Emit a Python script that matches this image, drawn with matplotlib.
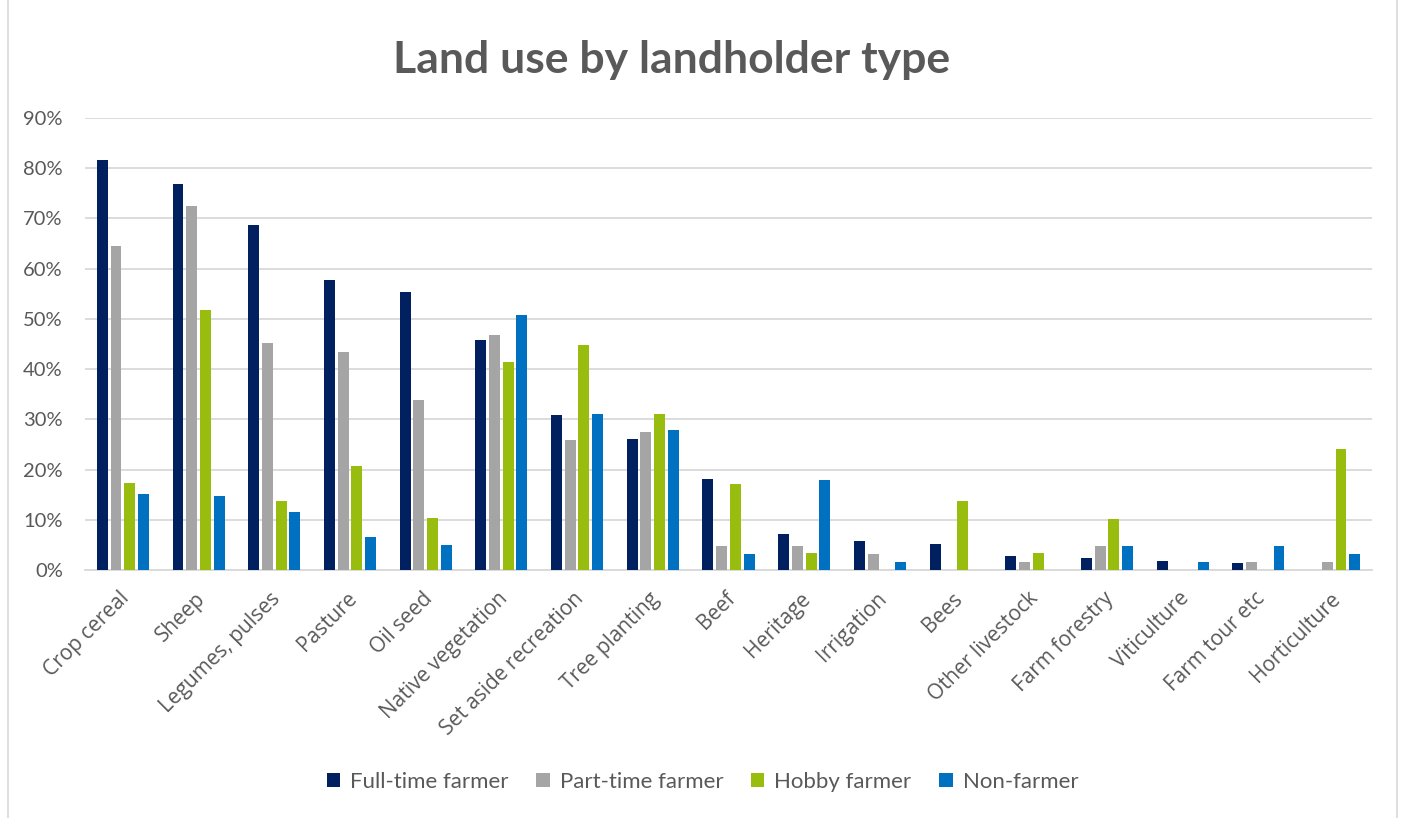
import numpy as np
import matplotlib.pyplot as plt
from matplotlib.patches import Rectangle
from matplotlib.ticker import PercentFormatter
from matplotlib.transforms import ScaledTranslation

categories = ['Crop cereal', 'Sheep', 'Legumes, pulses', 'Pasture', 'Oil seed',
              'Native vegetation', 'Set aside recreation', 'Tree planting', 'Beef',
              'Heritage', 'Irrigation', 'Bees', 'Other livestock', 'Farm forestry',
              'Viticulture', 'Farm tour etc', 'Horticulture']

full_time = [81.7, 76.9, 68.7, 57.7, 55.3, 45.7, 30.8, 26.0, 18.2, 7.1, 5.7, 5.2, 2.8, 2.3, 1.7, 1.3, 0.0]
part_time = [64.6, 72.5, 45.2, 43.5, 33.9, 46.8, 25.8, 27.4, 4.7, 4.7, 3.1, 0.0, 1.5, 4.7, 0.0, 1.5, 1.5]
hobby = [17.3, 51.7, 13.8, 20.7, 10.4, 41.4, 44.8, 31.0, 17.2, 3.3, 0.0, 13.7, 3.3, 10.2, 0.0, 0.0, 24.1]
non_farmer = [15.1, 14.7, 11.5, 6.6, 5.0, 50.8, 31.1, 27.8, 3.1, 17.9, 1.5, 0.0, 0.0, 4.8, 1.5, 4.8, 3.1]

series = ['Full-time farmer', 'Part-time farmer', 'Hobby farmer', 'Non-farmer']
colors = ['#002060', '#A5A5A5', '#99BD0E', '#0070C0']

plt.rcParams['font.family'] = ['Lato', 'DejaVu Sans']
text_col = '#595959'

fig = plt.figure(figsize=(14.05, 8.18), dpi=100)
ax = fig.add_axes([85 / 1405, 1 - 570 / 818, (1372 - 85) / 1405, (570 - 118) / 818])

x = np.arange(len(categories))
step = 0.181
width = 0.145
for i, (name, vals, c) in enumerate(zip(series, [full_time, part_time, hobby, non_farmer], colors)):
    ax.bar(x + (i - 1.5) * step, vals, width=width, color=c, label=name, zorder=3)

ax.set_xlim(-0.5, len(categories) - 0.5)
ax.set_ylim(0, 90)
ax.set_yticks(np.arange(0, 91, 10))
ax.yaxis.set_major_formatter(PercentFormatter(decimals=0))
ax.grid(axis='y', color='#D9D9D9', linewidth=1.3, zorder=0)
for s in ['top', 'right', 'left']:
    ax.spines[s].set_visible(False)
ax.spines['bottom'].set_color('#D9D9D9')
ax.spines['bottom'].set_linewidth(1.3)
ax.tick_params(axis='y', length=0, pad=16, labelsize=14.5, labelcolor=text_col)
ax.tick_params(axis='x', length=0, pad=13, labelcolor=text_col)
ax.set_xticks(x)
ax.set_xticklabels(categories, rotation=45, ha='right', rotation_mode='anchor',
                   fontfamily='Open Sans', fontsize=15)
shift = ScaledTranslation(-4 / 100, 0, fig.dpi_scale_trans)
for lbl in ax.get_xticklabels():
    lbl.set_transform(lbl.get_transform() + shift)

fig.text(0.478, 1 - 60 / 818, 'Land use by landholder type', ha='center', va='center',
         fontsize=32, fontweight='bold', color=text_col)

leg = fig.legend(loc='center', bbox_to_anchor=(0.5, 1 - 782 / 818), ncol=4, frameon=False,
                 fontsize=16, handlelength=0.6, handleheight=0.6, handletextpad=0.45,
                 columnspacing=1.25)
for t in leg.get_texts():
    t.set_color(text_col)

# light frame around the chart area
fig.patches.append(Rectangle((8 / 1405, -0.01), 1389 / 1405, 1.02, transform=fig.transFigure,
                             fill=False, edgecolor='#D9D9D9', linewidth=1.2))

fig.savefig('out.png', dpi=100, facecolor='white')
